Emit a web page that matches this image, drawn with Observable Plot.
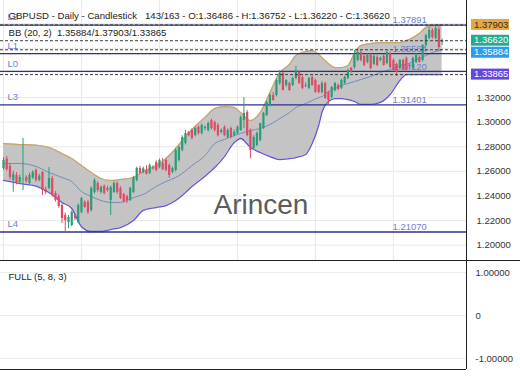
<!DOCTYPE html>
<html><head><meta charset="utf-8">
<script src="https://cdn.jsdelivr.net/npm/d3@7"></script>
<script src="https://cdn.jsdelivr.net/npm/@observablehq/plot@0.6"></script>
<style>
html,body{margin:0;padding:0;background:#fff;}
#chart{width:520px;}
#chart svg{display:block;}
</style></head><body><div id="chart"></div>
<script>
// ---------- DATA ----------
const symbol = "GBPUSD", period = "Daily", chartType = "Candlestick", barPos = "143/163";
const open = [1.2623,1.2700,1.2640,1.2526,1.2566,1.2510,1.2535,1.2550,1.2501,1.2545,
1.2607,1.2526,1.2591,1.2450,1.2461,1.2542,1.2420,1.2396,1.2322,1.2241,
1.2184,1.2160,1.2241,1.2184,1.2266,1.2347,1.2347,1.2282,1.2428,1.2501,
1.2428,1.2477,1.2461,1.2363,1.2428,1.2501,1.2461,1.2412,1.2396,1.2363,
1.2428,1.2526,1.2623,1.2590,1.2607,1.2583,1.2631,1.2672,1.2631,1.2664,
1.2688,1.2647,1.2591,1.2607,1.2688,1.2770,1.2826,1.2916,1.2932,1.2891,
1.2957,1.2908,1.2948,1.2932,1.3013,1.2997,1.2973,1.2916,1.2957,1.2875,
1.2948,1.2891,1.2908,1.2932,1.3013,1.3078,1.2932,1.2786,1.2810,1.2851,
1.2948,1.3054,1.3135,1.3217,1.3217,1.3314,1.3396,1.3298,1.3314,1.3298,
1.3355,1.3404,1.3363,1.3298,1.3274,1.3363,1.3339,1.3298,1.3241,1.3314,
1.3241,1.3200,1.3257,1.3298,1.3274,1.3314,1.3355,1.3436,1.3444,1.3501,
1.3566,1.3535,1.3485,1.3542,1.3469,1.3526,1.3501,1.3535,1.3477,1.3558,
1.3501,1.3469,1.3436,1.3501,1.3518,1.3461,1.3436,1.3485,1.3526,1.3501,
1.3623,1.3680,1.3745,1.3680,1.3753,1.36486];
const high = [1.2712,1.2720,1.2660,1.2600,1.2590,1.2570,1.2867,1.2565,1.2585,1.2605,
1.2620,1.2575,1.2600,1.2470,1.2631,1.2560,1.2435,1.2410,1.2335,1.2260,
1.2240,1.2280,1.2250,1.2335,1.2390,1.2360,1.2365,1.2475,1.2540,1.2515,
1.2480,1.2490,1.2480,1.2480,1.2515,1.2515,1.2475,1.2420,1.2405,1.2470,
1.2560,1.2635,1.2640,1.2635,1.2645,1.2660,1.2645,1.2685,1.2700,1.2704,
1.2700,1.2660,1.2635,1.2785,1.2805,1.2890,1.2932,1.2925,1.2945,1.2960,
1.2970,1.2985,1.2970,1.3000,1.3025,1.3008,1.2990,1.2945,1.2970,1.2945,
1.2960,1.2935,1.2970,1.3050,1.3200,1.3095,1.2945,1.2890,1.2920,1.2990,
1.3080,1.3170,1.3230,1.3240,1.3350,1.3420,1.3405,1.3345,1.3325,1.3365,
1.3453,1.3415,1.3375,1.3320,1.3365,1.3375,1.3350,1.3305,1.3330,1.3325,
1.3250,1.3290,1.3325,1.3310,1.3350,1.3375,1.3430,1.3445,1.3582,1.3599,
1.3580,1.3545,1.3555,1.3555,1.3545,1.3540,1.3530,1.3548,1.3580,1.3570,
1.3515,1.3480,1.3510,1.3512,1.3530,1.3475,1.3530,1.3555,1.3540,1.3630,
1.3715,1.3770,1.3760,1.3789,1.3775,1.36752];
const low = [1.2607,1.2600,1.2530,1.2430,1.2490,1.2495,1.2444,1.2505,1.2490,1.2535,
1.2510,1.2515,1.2404,1.2410,1.2450,1.2390,1.2350,1.2300,1.2176,1.2103,
1.2135,1.2150,1.2200,1.2175,1.2255,1.2300,1.2250,1.2270,1.2415,1.2430,
1.2415,1.2410,1.2430,1.2241,1.2420,1.2415,1.2370,1.2345,1.2339,1.2355,
1.2420,1.2515,1.2575,1.2580,1.2570,1.2575,1.2610,1.2595,1.2620,1.2605,
1.2595,1.2542,1.2580,1.2595,1.2675,1.2760,1.2815,1.2880,1.2855,1.2880,
1.2895,1.2895,1.2930,1.2920,1.2935,1.2920,1.2880,1.2905,1.2880,1.2865,
1.2865,1.2880,1.2900,1.2925,1.2948,1.2880,1.2704,1.2770,1.2800,1.2840,
1.2940,1.3045,1.3125,1.3170,1.3205,1.3300,1.3255,1.3285,1.3250,1.3290,
1.3345,1.3305,1.3265,1.3280,1.3265,1.3290,1.3235,1.3230,1.3230,1.3185,
1.3144,1.3190,1.3245,1.3255,1.3265,1.3305,1.3345,1.3395,1.3430,1.3490,
1.3490,1.3450,1.3475,1.3425,1.3460,1.3450,1.3490,1.3455,1.3465,1.3435,
1.3410,1.3371,1.3425,1.3420,1.3410,1.3440,1.3425,1.3475,1.3480,1.3490,
1.3610,1.3670,1.3675,1.3670,1.3582,1.36220];
const close = [1.2688,1.2615,1.2550,1.2575,1.2501,1.2550,1.2538,1.2520,1.2566,1.2591,
1.2526,1.2560,1.2444,1.2428,1.2542,1.2404,1.2363,1.2314,1.2217,1.2200,
1.2225,1.2266,1.2217,1.2322,1.2379,1.2306,1.2266,1.2461,1.2526,1.2444,
1.2469,1.2420,1.2444,1.2469,1.2501,1.2428,1.2379,1.2355,1.2363,1.2461,
1.2550,1.2623,1.2583,1.2620,1.2575,1.2647,1.2620,1.2607,1.2688,1.2615,
1.2607,1.2566,1.2623,1.2770,1.2794,1.2875,1.2908,1.2891,1.2867,1.2948,
1.2908,1.2973,1.2957,1.2989,1.2948,1.2932,1.2891,1.2932,1.2891,1.2932,
1.2875,1.2916,1.2957,1.3038,1.3071,1.2891,1.2770,1.2875,1.2908,1.2989,
1.3071,1.3160,1.3217,1.3176,1.3339,1.3396,1.3257,1.3339,1.3257,1.3355,
1.3420,1.3314,1.3274,1.3290,1.3355,1.3298,1.3241,1.3241,1.3314,1.3192,
1.3176,1.3282,1.3314,1.3266,1.3339,1.3363,1.3420,1.3404,1.3542,1.3566,
1.3501,1.3461,1.3542,1.3436,1.3535,1.3461,1.3518,1.3461,1.3566,1.3444,
1.3420,1.3404,1.3501,1.3428,1.3420,1.3453,1.3518,1.3542,1.3485,1.3623,
1.3704,1.3745,1.3688,1.3761,1.3607,1.36620];

// Bollinger band readings (bar index, upper, middle, lower)
const bandIdx = [0,5,10,14,18,21,24,27,30,33,36,40,43,47,50,53,55,58,62,65,68,71,73,76,79,82,85,88,90,93,95,97,98,100,102,104,106,108,110,113,116,119,122,124,126,128,130,132,135];
const bbUpper = [1.2826,1.2818,1.2813,1.2794,1.2745,1.2704,1.2647,1.2591,1.2542,1.2526,1.2534,1.2550,1.2599,1.2647,1.2704,1.2786,1.2851,1.2940,1.3038,1.3111,1.3127,1.3119,1.3078,1.3013,1.3078,1.3241,1.3400,1.3469,1.3542,1.3574,1.3582,1.3550,1.3526,1.3477,1.3444,1.3444,1.3460,1.3560,1.3623,1.3639,1.3647,1.3647,1.3647,1.3663,1.3688,1.3720,1.3770,1.3785,1.37903];
const bbMiddle = [1.2664,1.2664,1.2640,1.2591,1.2550,1.2517,1.2436,1.2396,1.2363,1.2347,1.2347,1.2387,1.2412,1.2477,1.2517,1.2550,1.2583,1.2647,1.2728,1.2826,1.2859,1.2891,1.2908,1.2932,1.2948,1.2981,1.3029,1.3078,1.3119,1.3152,1.3176,1.3200,1.3208,1.3249,1.3273,1.3298,1.3314,1.3330,1.3347,1.3371,1.3404,1.3428,1.3453,1.3469,1.3493,1.3518,1.3542,1.3566,1.35884];
const bbLower = [1.2526,1.2501,1.2480,1.2428,1.2347,1.2298,1.2150,1.2111,1.2111,1.2127,1.2143,1.2200,1.2282,1.2306,1.2322,1.2363,1.2404,1.2477,1.2560,1.2631,1.2720,1.2834,1.2867,1.2794,1.2753,1.2720,1.2696,1.2704,1.2712,1.2737,1.2826,1.2973,1.3078,1.3168,1.3192,1.3192,1.3184,1.3168,1.3144,1.3144,1.3160,1.3225,1.3339,1.3387,1.3387,1.3387,1.3387,1.3387,1.33865];
const bbLabel = "BB (20, 2)";
const bbNow = [1.35884, 1.37903, 1.33865];   // middle / upper / lower

const levelNames = ["L2", "L1", "L0", "L3", "L4"];
const levelValues = [1.37891, 1.35564, 1.34120, 1.31401, 1.21070];

const priceTicks = [1.20, 1.22, 1.24, 1.26, 1.28, 1.30, 1.32];
const priceGrid = [1.20, 1.22, 1.24, 1.26, 1.28, 1.30, 1.32, 1.34, 1.36, 1.38];
const timeGridBars = [0, 24, 48, 72, 96, 120];

const stochLabel = "FULL (5, 8, 3)";
const stochTicks = [1, 0, -1];
const watermark = "Arincen";

// ---------- LAYOUT ----------
const font = "'Liberation Sans', Arial, Helvetica, sans-serif";
const green = "#2a9d78", red = "#e04a62";
const xDomain = [-0.92, 142.5];
const yDomain = [1.18752, 1.3989];
const fmt = v => v.toFixed(5);

const bars = close.map((c, i) => ({i, o: open[i], h: high[i], l: low[i], c, col: c >= open[i] ? green : red}));
const bands = bandIdx.map((i, k) => ({i, u: bbUpper[k], m: bbMiddle[k], l: bbLower[k]}));
const levels = levelNames.map((n, k) => ({n, v: levelValues[k]}));
const last = close.length - 1;
const sp = "\u00a0\u00a0\u00a0";
const title = `${symbol} - ${period} - ${chartType}${sp}${barPos} - O:${fmt(open[last])} - H:${fmt(high[last])} - L:${fmt(low[last])} - C:${fmt(close[last])}`;
const bbLine = `${bbLabel}\u00a0\u00a0${bbNow.map(fmt).join("/")}`;

const main = Plot.plot({
  width: 520, height: 260,
  marginLeft: 0, marginRight: 54, marginTop: 0, marginBottom: 0,
  style: {fontFamily: font, background: "#fff", overflow: "visible"},
  x: {domain: xDomain, axis: null},
  y: {domain: yDomain, axis: null},
  marks: [
    Plot.ruleY(priceGrid, {stroke: "#e9e9e9"}),
    Plot.ruleX(timeGridBars, {stroke: "#e9e9e9"}),
    Plot.text([watermark], {frameAnchor: "top-left", dx: 213, dy: 194, textAnchor: "start", fontSize: 28, fill: "#5c5c5c"}),
    Plot.areaY(bands, {x: "i", y1: "l", y2: "u", fill: "#c4c4c4", curve: "monotone-x"}),
    Plot.lineY(bands, {x: "i", y: "u", stroke: "#caa46c", strokeWidth: 1.3, curve: "monotone-x"}),
    Plot.lineY(bands, {x: "i", y: "m", stroke: "#6e8fbf", strokeWidth: 1, curve: "monotone-x"}),
    Plot.lineY(bands, {x: "i", y: "l", stroke: "#6454d6", strokeWidth: 1.3, curve: "monotone-x"}),
    Plot.ruleY(levels, {y: "v", stroke: "#2e2f8c", strokeWidth: 1.3}),
    Plot.text(levels, {y: "v", text: "n", frameAnchor: "left", dx: 7, dy: -8, textAnchor: "start", fontSize: 9.5, fill: "#6e80d2"}),
    Plot.text(levels, {y: "v", text: d => fmt(d.v), frameAnchor: "left", dx: 392, dy: -5, textAnchor: "start", fontSize: 9.5, fill: "#6e80d2"}),
    Plot.ruleX(bars, {x: "i", y1: "l", y2: "h", stroke: "col", strokeWidth: 1}),
    Plot.ruleX(bars, {x: "i", y1: "o", y2: "c", stroke: "col", strokeWidth: 2.2}),
    Plot.ruleY([close[last]], {stroke: "#3a3a3a", strokeDasharray: "3,2"}),
    Plot.ruleY(bbNow, {stroke: "#3a3a3a", strokeDasharray: "3,2"}),
    Plot.ruleX([xDomain[1]], {stroke: "#222"}),
    Plot.axisY(priceTicks, {anchor: "right", tickSize: 0, tickPadding: 10, tickFormat: fmt, label: null, fontSize: 9.5, fill: "#333"}),
    Plot.text([title], {frameAnchor: "top-left", dx: 8, dy: 12, textAnchor: "start", fontSize: 9.6, fill: "#222"}),
    Plot.text([bbLine], {frameAnchor: "top-left", dx: 8, dy: 29, textAnchor: "start", fontSize: 9.6, fill: "#222"})
  ]
});

// value badges on the right axis
const badgeVals = [bbNow[1], close[last], bbNow[0], bbNow[2]];
const badgeFill = ["#e2a846", "#2aaa8c", "#2b9bf0", "#6547e0"];
const badgeText = ["#3a2a10", "#fff", "#fff", "#fff"];
const ys = main.scale("y");
const svgM = d3.select(main);
let prev = -Infinity;
badgeVals.forEach((v, k) => {
  let y = ys.apply(v);
  if (y < prev + 12) y = prev + 12;
  prev = y;
  const g = svgM.append("g");
  g.append("rect").attr("x", 471).attr("y", y - 5.5).attr("width", 38).attr("height", 11).attr("fill", badgeFill[k]);
  g.append("text").attr("x", 474).attr("y", y).attr("dy", "0.34em").attr("font-size", 9.5)
    .attr("text-anchor", "start")
    .attr("font-family", font).attr("fill", badgeText[k]).text(fmt(v));
});

const lowDomain = [-1.256, 1.279];
const lower = Plot.plot({
  width: 520, height: 130,
  marginLeft: 0, marginRight: 54, marginTop: 0, marginBottom: 21,
  style: {fontFamily: font, background: "#fff"},
  x: {domain: xDomain, axis: null},
  y: {domain: lowDomain, axis: null},
  marks: [
    Plot.ruleY(stochTicks, {stroke: "#ececec"}),
    Plot.axisY(stochTicks, {anchor: "right", tickSize: 0, tickPadding: 9, tickFormat: d => d === 0 ? "0" : fmt(d), label: null, fontSize: 9.5, fill: "#333"}),
    Plot.text([stochLabel], {frameAnchor: "top-left", dx: 8, dy: 13, textAnchor: "start", fontSize: 9.5, fill: "#222"}),
    Plot.ruleX([xDomain[1]], {stroke: "#222"}),
    Plot.ruleY([lowDomain[0]], {stroke: "#222"})
  ]
});
d3.select(lower).append("line").attr("x1", 0).attr("x2", 520).attr("y1", 0.5).attr("y2", 0.5).attr("stroke", "#222");

const root = document.getElementById("chart");
root.append(main, lower);
</script></body></html>
